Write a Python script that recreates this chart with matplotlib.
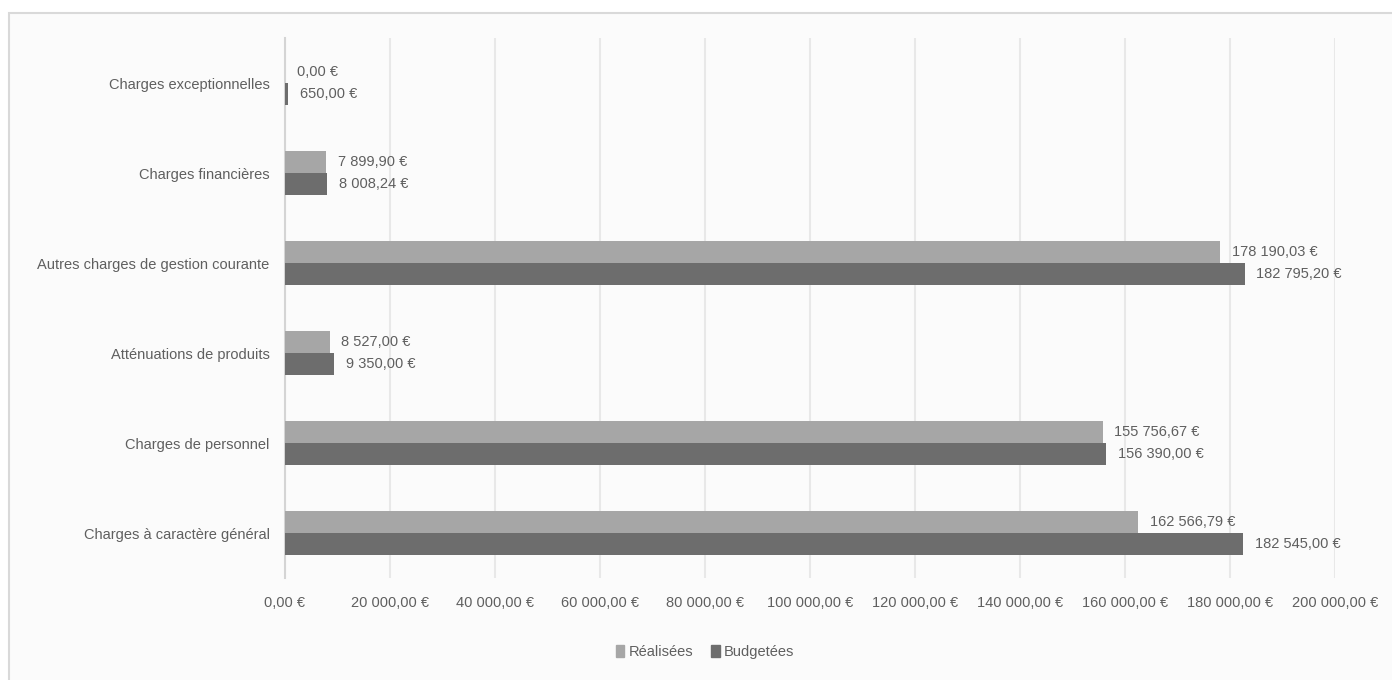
import matplotlib
matplotlib.use("Agg")
import matplotlib.pyplot as plt
from matplotlib.patches import Rectangle
import numpy as np

categories = ["Charges à caractère général", "Charges de personnel", "Atténuations de produits",
              "Autres charges de gestion courante", "Charges financières", "Charges exceptionnelles"]
realisees = [162566.79, 155756.67, 8527.00, 178190.03, 7899.90, 0.00]
budgetees = [182545.00, 156390.00, 9350.00, 182795.20, 8008.24, 650.00]
xticks = [0, 20000, 40000, 60000, 80000, 100000, 120000, 140000, 160000, 180000, 200000]
series_names = ["Réalisées", "Budgetées"]

plt.rcParams['font.family'] = ['Liberation Sans Narrow', 'Liberation Sans', 'DejaVu Sans']
TXT = "#5f5f5f"
C_LIGHT = "#a6a6a6"
C_DARK = "#6d6d6d"

def fmt(v):
    s = f"{v:,.2f}"
    s = s.replace(",", " ").replace(".", ",")
    return s + " €"

fig = plt.figure(figsize=(13.92, 6.8), dpi=100)
fig.patch.set_facecolor("white")
# chart frame
frame = Rectangle((9/1392, -0.05), 1.1, 1 - 13/680 + 0.05, transform=fig.transFigure,
                  facecolor="#fbfbfb", edgecolor="#d9d9d9", linewidth=1.5, zorder=-10)
fig.patches.append(frame)

ax = fig.add_axes([285/1392, 1 - 578/680, 1050/1392, 540/680])
ax.set_zorder(5)
ax.set_facecolor("none")
y = np.arange(len(categories))
h = 0.245
ax.barh(y + h/2, realisees, height=h, color=C_LIGHT, label=series_names[0], zorder=3)
ax.barh(y - h/2, budgetees, height=h, color=C_DARK, label=series_names[1], zorder=3)

for i in range(len(categories)):
    ax.text(realisees[i] + 2200, y[i] + h/2, fmt(realisees[i]), va="center", ha="left",
            fontsize=10.5, color=TXT, zorder=4)
    ax.text(budgetees[i] + 2200, y[i] - h/2, fmt(budgetees[i]), va="center", ha="left",
            fontsize=10.5, color=TXT, zorder=4)

ax.set_xlim(0, 200000)
ax.set_ylim(-0.5, len(categories) - 0.5)
ax.set_xticks(xticks)
ax.set_xticklabels([fmt(t) for t in xticks], fontsize=10.5, color=TXT)
ax.set_yticks(y)
ax.set_yticklabels(categories, fontsize=10.5, color=TXT)
ax.tick_params(axis="x", length=0, pad=13)
ax.tick_params(axis="y", length=0, pad=11)
ax.xaxis.grid(True, color="#e8e8e8", linewidth=1.5, zorder=0)
for s in ["top", "right", "bottom"]:
    ax.spines[s].set_visible(False)
ax.spines["left"].set_color("#d4d4d4")
ax.spines["left"].set_linewidth(1.5)

handles = [Rectangle((0, 0), 1, 1, color=C_LIGHT), Rectangle((0, 0), 1, 1, color=C_DARK)]
fig.legend(handles, series_names, loc="center", bbox_to_anchor=(705/1392, 1 - 652/680),
           ncol=2, frameon=False, fontsize=10.5, labelcolor=TXT, handlelength=0.6, handleheight=0.8,
           handletextpad=0.3, columnspacing=1.2)

fig.savefig("out.png", dpi=100, facecolor="white")
